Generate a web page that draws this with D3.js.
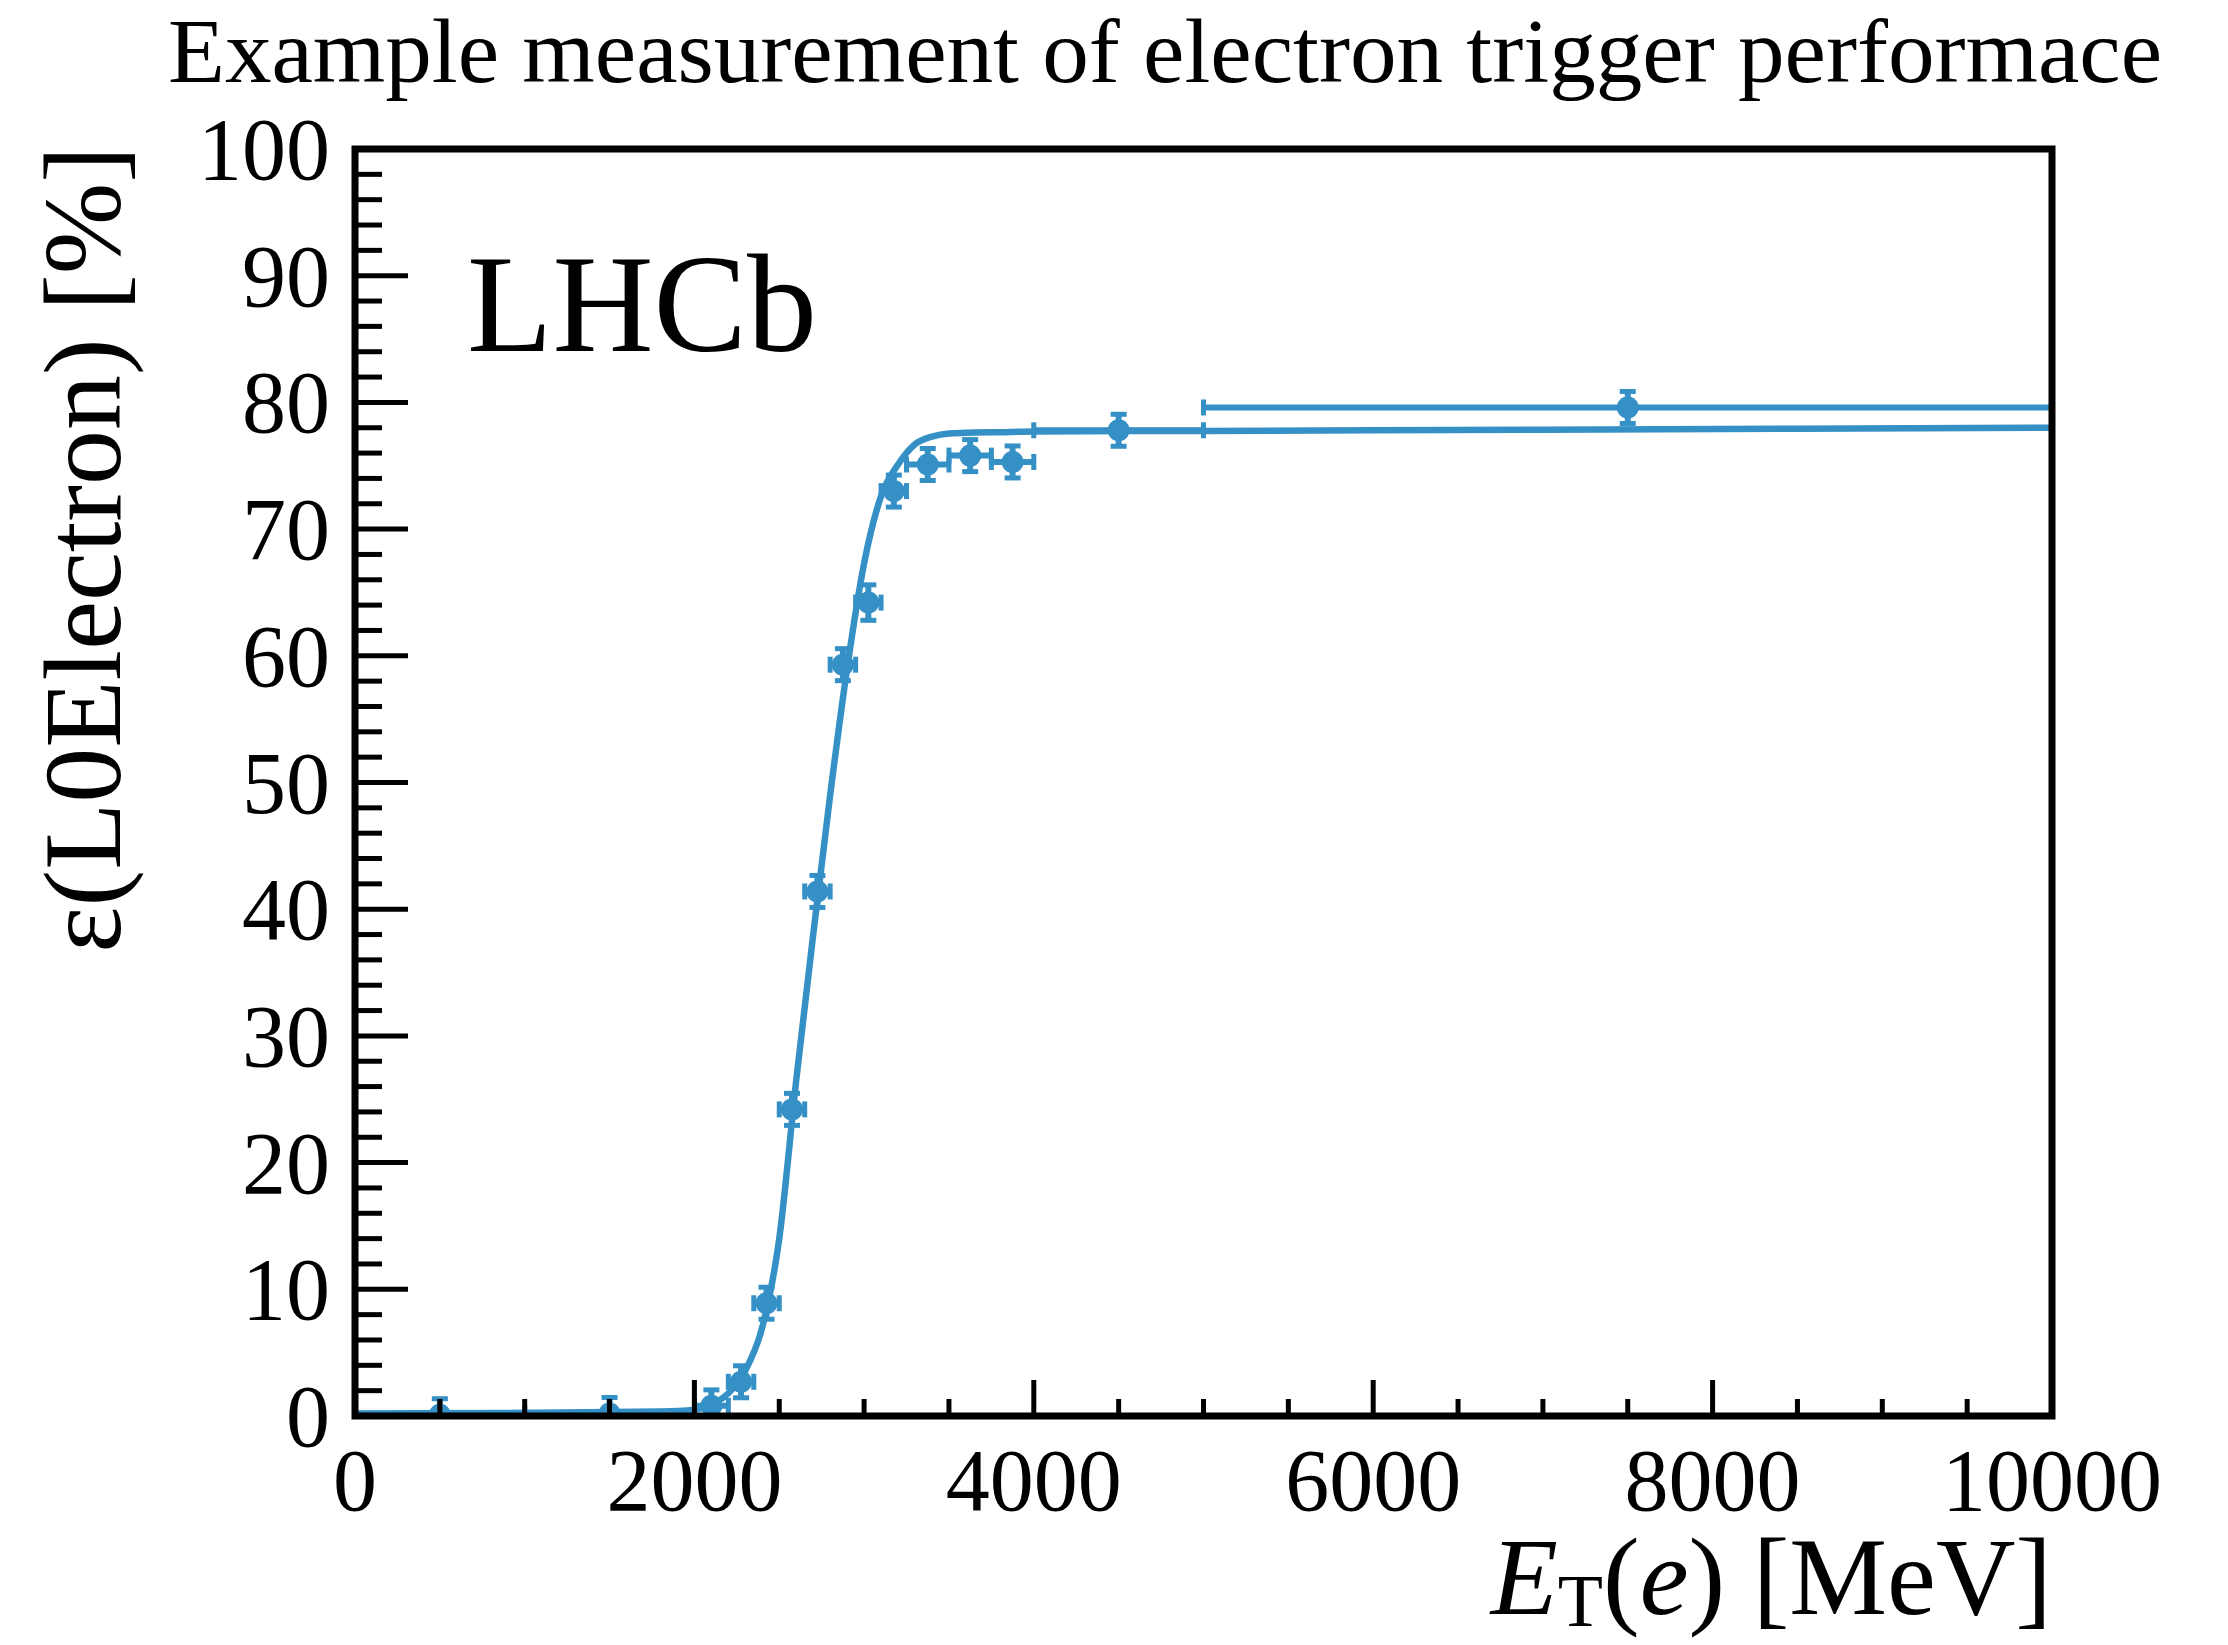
<!DOCTYPE html>
<html>
<head>
<meta charset="utf-8">
<script src="https://cdn.jsdelivr.net/npm/d3@7"></script>
<style>
  html, body { margin: 0; padding: 0; background: #fff; }
  svg { display: block; }
  text { font-family: "Liberation Serif", "DejaVu Serif", serif; fill: #000; }
</style>
</head>
<body>
<svg id="chart" width="2228" height="1645"></svg>
<script>
// ---- data ----
const pointX   = [500, 1500, 2100, 2275, 2425, 2575, 2725, 2875, 3025, 3175, 3375, 3625, 3875, 4500, 7500];
const pointXHalf = [500, 500, 100, 75, 75, 75, 75, 75, 75, 75, 125, 125, 125, 500, 2500];
const pointY   = [0.1, 0.2, 0.8, 2.7, 8.9, 24.2, 41.4, 59.3, 64.2, 73.0, 75.1, 75.8, 75.3, 77.8, 79.6];
const pointYErr = [0.3, 0.3, 0.5, 0.6, 0.7, 0.9, 1.0, 1.0, 1.4, 1.0, 1.1, 1.1, 1.2, 0.4, 0.4];

const fitX = [0, 1000, 1800, 2000, 2100, 2200, 2300, 2400, 2500, 2600, 2700, 2800, 2900, 3000, 3100, 3200, 3300, 3400, 3500, 3600, 3800, 4000, 5000, 7000, 10000];
const fitY = [0.2, 0.25, 0.35, 0.5, 0.9, 1.8, 3.6, 7.0, 14.0, 26.5, 38.0, 49.0, 59.0, 67.3, 72.6, 75.1, 76.7, 77.3, 77.55, 77.6, 77.65, 77.7, 77.75, 77.85, 78.0];

const xMajorTicks = [0, 2000, 4000, 6000, 8000, 10000];
const xMinorTicks = d3.range(0, 10001, 500);
const yMajorTicks = [0, 10, 20, 30, 40, 50, 60, 70, 80, 90, 100];
const yMinorTicks = d3.range(0, 101, 2);

const titleText = "Example measurement of electron trigger performace";
const expLabel = "LHCb";

// ---- layout ----
const L = 355, R = 2052, T = 149, B = 1416;
const color = "#3590c6";

const svg = d3.select("#chart");
const x = d3.scaleLinear().domain([0, 10000]).range([L, R]);
const y = d3.scaleLinear().domain([0, 100]).range([B, T]);

// title
svg.append("text").attr("x", 168).attr("y", 82)
  .attr("font-size", 90).attr("textLength", 1994).attr("lengthAdjust", "spacingAndGlyphs")
  .text(titleText);

// clip
svg.append("defs").append("clipPath").attr("id", "clip")
  .append("rect").attr("x", L).attr("y", T).attr("width", R - L).attr("height", B - T);

const plot = svg.append("g").attr("clip-path", "url(#clip)");

// fit curve
const line = d3.line().x(d => x(d[0])).y(d => y(d[1])).curve(d3.curveMonotoneX);
plot.append("path").datum(fitX.map((v, i) => [v, fitY[i]]))
  .attr("d", line).attr("fill", "none").attr("stroke", color).attr("stroke-width", 6.5);

// data points
const pts = pointX.map((v, i) => ({ x: v, xh: pointXHalf[i], y: pointY[i], ye: pointYErr[i] }));
const g = plot.append("g").attr("stroke", color).attr("fill", color);
const cap = 8;
pts.forEach(p => {
  const px = x(p.x), py = y(p.y);
  const x0 = x(p.x - p.xh), x1 = x(p.x + p.xh);
  const ya = Math.min(y(p.y + p.ye), py - 16), yb = Math.max(y(p.y - p.ye), py + 16);
  g.append("line").attr("x1", x0).attr("x2", x1).attr("y1", py).attr("y2", py).attr("stroke-width", 6);
  g.append("line").attr("x1", x0).attr("x2", x0).attr("y1", py - cap).attr("y2", py + cap).attr("stroke-width", 5);
  g.append("line").attr("x1", x1).attr("x2", x1).attr("y1", py - cap).attr("y2", py + cap).attr("stroke-width", 5);
  g.append("line").attr("x1", px).attr("x2", px).attr("y1", ya).attr("y2", yb).attr("stroke-width", 6);
  g.append("line").attr("x1", px - cap).attr("x2", px + cap).attr("y1", ya).attr("y2", ya).attr("stroke-width", 5);
  g.append("line").attr("x1", px - cap).attr("x2", px + cap).attr("y1", yb).attr("y2", yb).attr("stroke-width", 5);
  g.append("circle").attr("cx", px).attr("cy", py).attr("r", 11).attr("stroke", "none");
});

// ticks
const axG = svg.append("g").attr("stroke", "#000");
xMinorTicks.forEach(v => {
  const major = xMajorTicks.includes(v);
  axG.append("line").attr("x1", x(v)).attr("x2", x(v)).attr("y1", B).attr("y2", B - (major ? 36 : 17)).attr("stroke-width", 5);
});
yMinorTicks.forEach(v => {
  const major = yMajorTicks.includes(v);
  axG.append("line").attr("x1", L).attr("x2", L + (major ? 53 : 27)).attr("y1", y(v)).attr("y2", y(v)).attr("stroke-width", 5);
});

// frame
svg.append("rect").attr("x", L).attr("y", T).attr("width", R - L).attr("height", B - T)
  .attr("fill", "none").attr("stroke", "#000").attr("stroke-width", 7);

// tick labels
xMajorTicks.forEach(v => {
  svg.append("text").attr("x", x(v)).attr("y", 1510).attr("text-anchor", "middle")
    .attr("font-size", 88).text(v);
});
yMajorTicks.forEach(v => {
  svg.append("text").attr("x", 330).attr("y", y(v) + 30).attr("text-anchor", "end")
    .attr("font-size", 88).text(v);
});

// LHCb label
svg.append("text").attr("x", 467).attr("y", 351).attr("font-size", 140).text(expLabel);

// x axis title
const xt = svg.append("text").attr("x", R).attr("y", 1614).attr("text-anchor", "end").attr("font-size", 110);
xt.append("tspan").attr("font-style", "italic").text("E");
xt.append("tspan").attr("font-size", 74).attr("dy", 12).text("T");
xt.append("tspan").attr("dy", -12).text("(");
xt.append("tspan").attr("font-style", "italic").text("e");
xt.append("tspan").text(") [MeV]");

// y axis title
svg.append("text").attr("transform", "translate(120,146) rotate(-90)")
  .attr("text-anchor", "end").attr("font-size", 110).text("ε(L0Electron) [%]");
</script>
</body>
</html>
